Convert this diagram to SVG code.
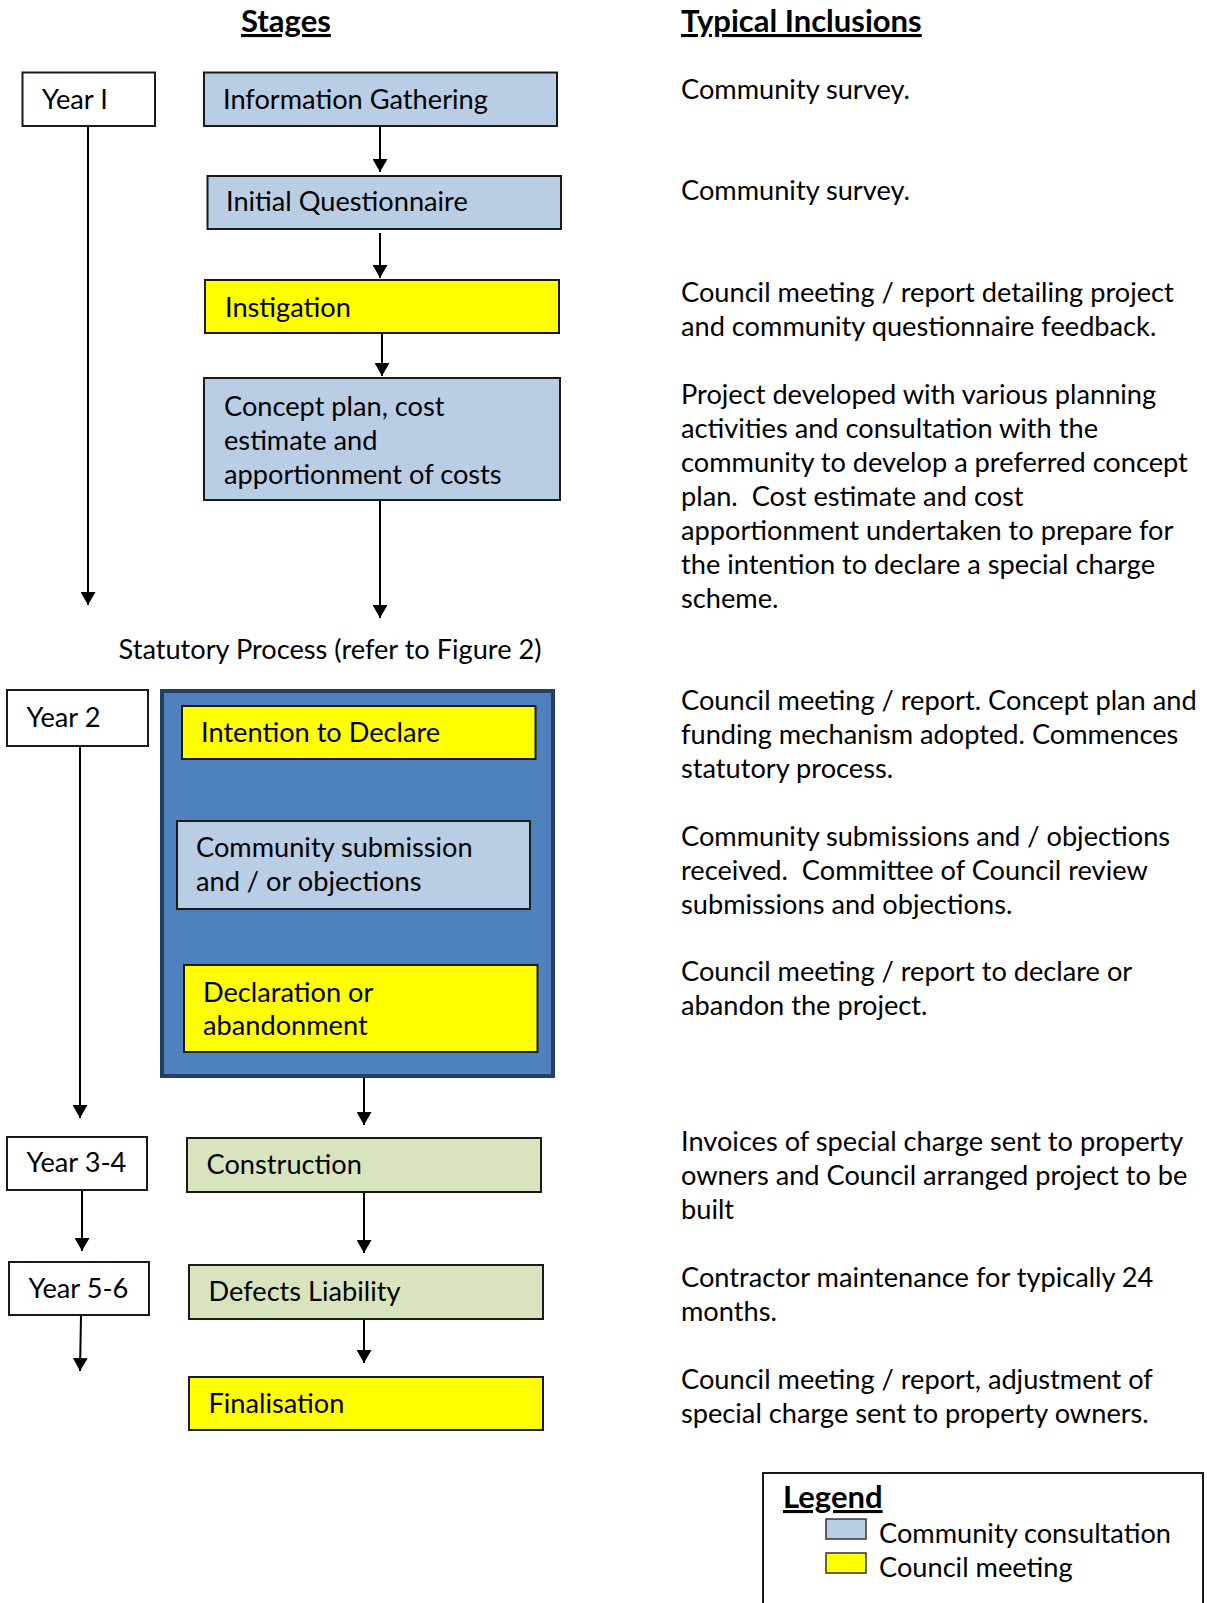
<svg xmlns="http://www.w3.org/2000/svg" width="1207" height="1603" viewBox="0 0 1207 1603">
<style>
text{font-family:Lato,"Open Sans","Liberation Sans",sans-serif;font-size:27.2px;fill:#000}
.h{font-weight:bold;text-decoration:underline;font-size:31px}
.box{stroke:#1a1a1a;stroke-width:2}
.yr{fill:#fff}
.cc{fill:#B9CDE5}
.cm{fill:#FFFF00}
.gr{fill:#D7E4BD}
.ln{stroke:#000;stroke-width:2;fill:none;marker-end:url(#ah)}
</style>
<defs>
<marker id="ah" viewBox="0 0 13 15" refX="13" refY="7.5" markerWidth="13" markerHeight="15" markerUnits="userSpaceOnUse" orient="auto">
<path d="M0,0 L13,7.5 L0,15 Z" fill="#000"/>
</marker>
</defs>
<rect width="1207" height="1603" fill="#fff"/>
<g id="headers">
<text class="h" x="241" y="32">Stages</text>
<text class="h" x="681" y="32">Typical Inclusions</text>
</g>
<g id="connectors">
<line class="ln" x1="88" y1="126" x2="88" y2="605"/>
<line class="ln" x1="380" y1="126" x2="380" y2="172"/>
<line class="ln" x1="380" y1="233" x2="380" y2="278"/>
<line class="ln" x1="382" y1="333" x2="382" y2="376"/>
<line class="ln" x1="380" y1="500" x2="380" y2="618"/>
<line class="ln" x1="80" y1="746" x2="80" y2="1118"/>
<line class="ln" x1="360" y1="759" x2="360" y2="815"/>
<line class="ln" x1="358" y1="909" x2="358" y2="960"/>
<line class="ln" x1="364" y1="1077" x2="364" y2="1125"/>
<line class="ln" x1="82" y1="1190" x2="82" y2="1251"/>
<line class="ln" x1="364" y1="1192" x2="364" y2="1253"/>
<line class="ln" x1="81" y1="1315" x2="80" y2="1371"/>
<line class="ln" x1="364" y1="1319" x2="364" y2="1363"/>
</g>
<g id="year1"><rect class="box yr" x="22.5" y="72.5" width="132.5" height="53.5"/><text x="42" y="109">Year I</text></g>
<g id="info-gathering"><rect class="box cc" x="204" y="72.5" width="353" height="53.5"/><text x="223" y="109">Information Gathering</text></g>
<g id="initial-questionnaire"><rect class="box cc" x="207.5" y="176" width="353.5" height="53"/><text x="226" y="211">Initial Questionnaire</text></g>
<g id="instigation"><rect class="box cm" x="205" y="280" width="354" height="53"/><text x="225" y="316.5">Instigation</text></g>
<g id="concept-plan"><rect class="box cc" x="204" y="378" width="356" height="122"/>
<text x="224" y="416">Concept plan, cost</text><text x="224" y="449.5">estimate and</text><text x="224" y="484">apportionment of costs</text></g>
<g id="statutory-label"><text x="118.5" y="659">Statutory Process (refer to Figure 2)</text></g>
<g id="year2"><rect class="box yr" x="7" y="690" width="141" height="56"/><text x="26.5" y="726.5">Year 2</text></g>
<g id="statutory-process"><rect x="162" y="691" width="391" height="385" fill="#4F81BD" stroke="#243F60" stroke-width="4"/></g>
<g id="intention"><rect class="box cm" x="182" y="706" width="353.5" height="53"/><text x="201" y="742">Intention to Declare</text></g>
<g id="community-submission"><rect class="box cc" x="177" y="821" width="353" height="88"/>
<text x="196" y="857">Community submission</text><text x="196" y="891">and / or objections</text></g>
<g id="declaration"><rect class="box cm" x="184" y="965" width="353.5" height="87"/>
<text x="203" y="1001.5">Declaration or</text><text x="203" y="1035">abandonment</text></g>
<g id="year3-4"><rect class="box yr" x="7" y="1137" width="140" height="53"/><text x="26.5" y="1172">Year 3-4</text></g>
<g id="construction"><rect class="box gr" x="187" y="1138" width="354" height="54"/><text x="206.5" y="1174">Construction</text></g>
<g id="year5-6"><rect class="box yr" x="9" y="1262" width="140" height="53"/><text x="28.5" y="1298">Year 5-6</text></g>
<g id="defects"><rect class="box gr" x="189" y="1265" width="354" height="54"/><text x="208.5" y="1301">Defects Liability</text></g>
<g id="finalisation"><rect class="box cm" x="189" y="1377" width="354" height="53"/><text x="208.5" y="1413">Finalisation</text></g>
<g id="inclusions">
<text x="681" y="99">Community survey.</text>
<text x="681" y="200">Community survey.</text>
<text x="681" y="302">Council meeting / report detailing project</text>
<text x="681" y="336">and community questionnaire feedback.</text>
<text x="681" y="404">Project developed with various planning</text>
<text x="681" y="438">activities and consultation with the</text>
<text x="681" y="472">community to develop a preferred concept</text>
<text x="681" y="506">plan.&#160; Cost estimate and cost</text>
<text x="681" y="540">apportionment undertaken to prepare for</text>
<text x="681" y="574">the intention to declare a special charge</text>
<text x="681" y="608">scheme.</text>
<text x="681" y="710">Council meeting / report. Concept plan and</text>
<text x="681" y="744">funding mechanism adopted. Commences</text>
<text x="681" y="778">statutory process.</text>
<text x="681" y="846">Community submissions and / objections</text>
<text x="681" y="880">received.&#160; Committee of Council review</text>
<text x="681" y="914">submissions and objections.</text>
<text x="681" y="981">Council meeting / report to declare or</text>
<text x="681" y="1015">abandon the project.</text>
<text x="681" y="1151">Invoices of special charge sent to property</text>
<text x="681" y="1185">owners and Council arranged project to be</text>
<text x="681" y="1219">built</text>
<text x="681" y="1287">Contractor maintenance for typically 24</text>
<text x="681" y="1321">months.</text>
<text x="681" y="1389">Council meeting / report, adjustment of</text>
<text x="681" y="1423">special charge sent to property owners.</text>
</g>
<g id="legend">
<rect x="763" y="1473" width="440" height="140" fill="#fff" stroke="#1a1a1a" stroke-width="2"/>
<text class="h" x="783" y="1508">Legend</text>
<rect x="826" y="1519" width="40" height="20" fill="#B9CDE5" stroke="#333" stroke-width="1.5"/>
<text x="879" y="1542.5">Community consultation</text>
<rect x="826" y="1553" width="40" height="20" fill="#FFFF00" stroke="#333" stroke-width="1.5"/>
<text x="879" y="1577">Council meeting</text>
</g>
</svg>
